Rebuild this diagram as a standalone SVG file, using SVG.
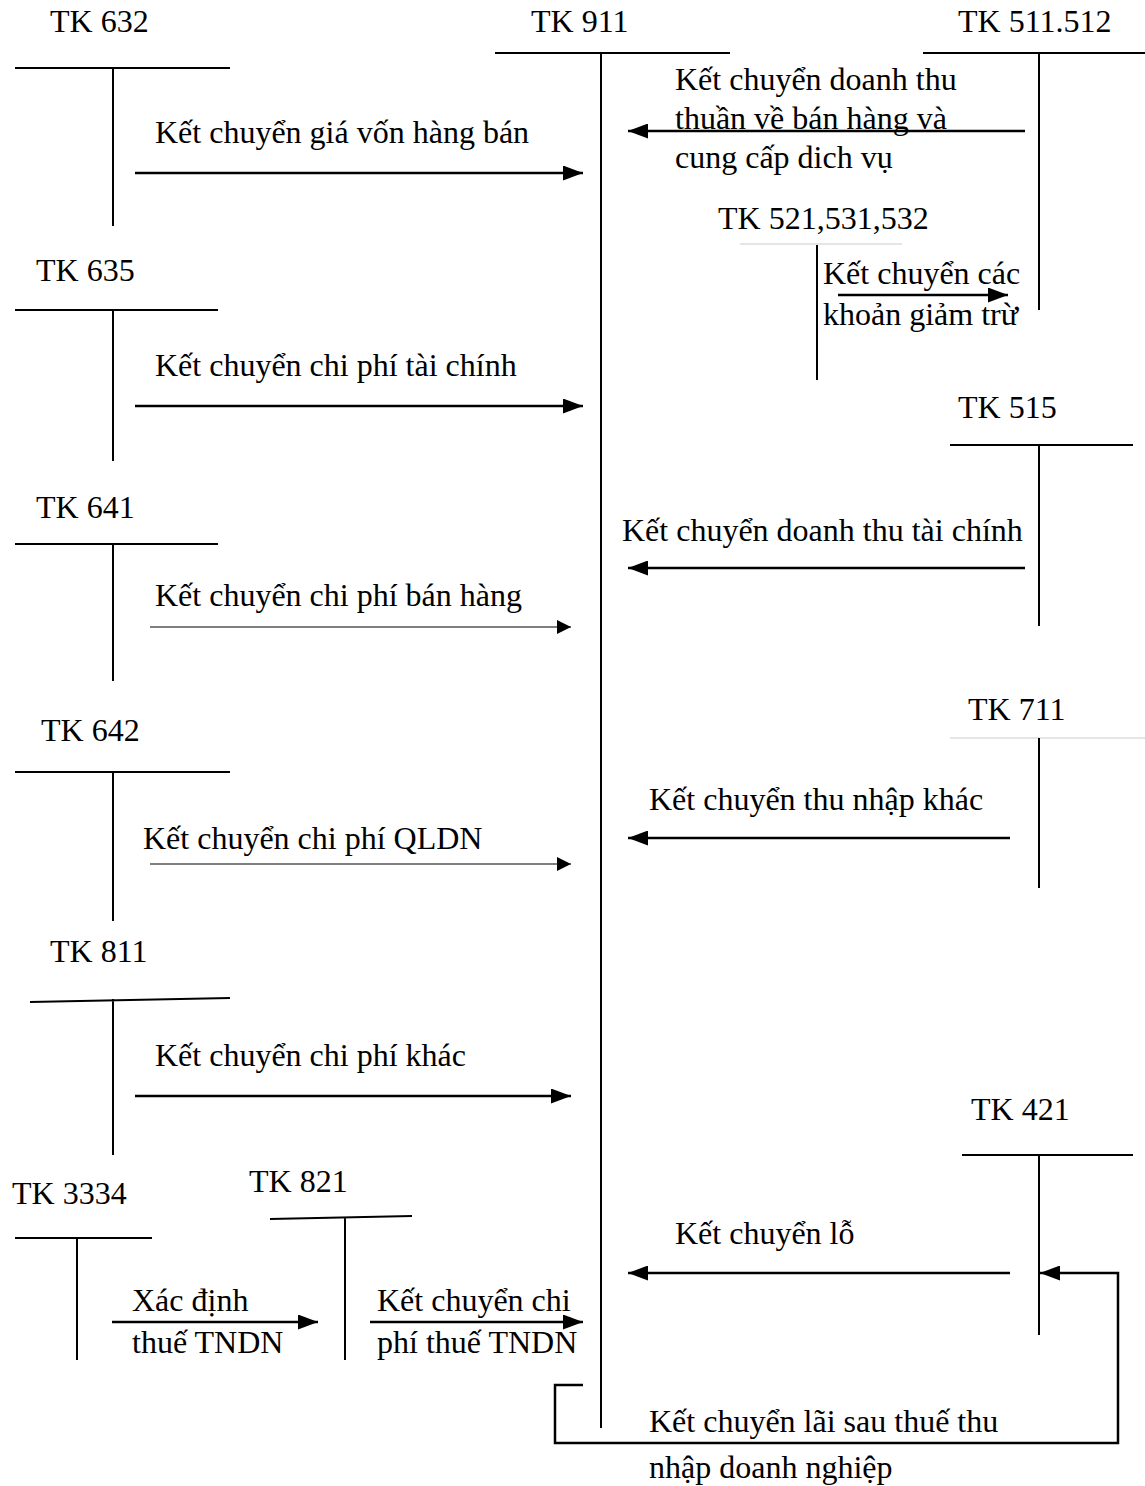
<svg xmlns="http://www.w3.org/2000/svg" width="1145" height="1486" viewBox="0 0 1145 1486">
<style>
text{font-family:"Liberation Serif","Times New Roman",serif;font-size:32px;fill:#000}
.ln{stroke:#000;stroke-width:2;fill:none}
.lt{stroke:#ddd;stroke-width:1.5;fill:none}
.ar{stroke:#000;stroke-width:2.5;fill:none;marker-end:url(#ah)}
.at{stroke:#000;stroke-width:1.2;fill:none;marker-end:url(#ah2)}
</style>
<defs>
<marker id="ah" markerWidth="8" markerHeight="6" refX="8" refY="3" orient="auto" markerUnits="strokeWidth"><path d="M0,0 L8,3 L0,6 Z" fill="#000"/></marker>
<marker id="ah2" markerWidth="14" markerHeight="14" refX="14" refY="7" orient="auto" markerUnits="userSpaceOnUse"><path d="M0,0 L14,7 L0,14 Z" fill="#000"/></marker>
</defs>
<rect width="1145" height="1486" fill="#fff"/>
<g id="tk632"><text x="50" y="32">TK 632</text><path class="ln" d="M15,68 H230 M113,68 V226"/></g>
<g id="tk911"><text x="531" y="32">TK 911</text><path class="ln" d="M495,53 H730 M601,53 V1428"/></g>
<g id="tk511"><text x="958" y="32">TK 511.512</text><path class="ln" d="M923,53 H1145 M1039,53 V310"/></g>
<g id="tk521"><text x="718" y="229">TK 521,531,532</text><path class="lt" d="M740,244 H902"/><path class="ln" d="M817,245 V380"/></g>
<g id="tk635"><text x="36" y="281">TK 635</text><path class="ln" d="M15,310 H218 M113,310 V461"/></g>
<g id="tk515"><text x="958" y="418">TK 515</text><path class="ln" d="M950,445 H1133 M1039,445 V626"/></g>
<g id="tk641"><text x="36" y="518">TK 641</text><path class="ln" d="M15,544 H218 M113,544 V681"/></g>
<g id="tk711"><text x="968" y="720">TK 711</text><path class="lt" d="M950,738 H1145"/><path class="ln" d="M1039,738 V888"/></g>
<g id="tk642"><text x="41" y="741">TK 642</text><path class="ln" d="M15,772 H230 M113,772 V921"/></g>
<g id="tk811"><text x="50" y="962">TK 811</text><path class="ln" d="M30,1002 L230,998 M113,999 V1155"/></g>
<g id="tk421"><text x="971" y="1120">TK 421</text><path class="ln" d="M962,1155 H1133 M1039,1155 V1335"/></g>
<g id="tk3334"><text x="12" y="1204">TK 3334</text><path class="ln" d="M15,1238 H152 M77,1238 V1360"/></g>
<g id="tk821"><text x="249" y="1192">TK 821</text><path class="ln" d="M270,1219 L412,1216 M345,1218 V1360"/></g>
<g id="connectors">
<path class="ar" d="M135,173 H583"/>
<path class="ar" d="M1025,131 H628"/>
<path class="ar" d="M838,295 H1008"/>
<path class="ar" d="M135,406 H583"/>
<path class="ar" d="M1025,568 H628"/>
<path class="at" d="M150,627 H571"/>
<path class="ar" d="M1010,838 H628"/>
<path class="at" d="M150,864 H571"/>
<path class="ar" d="M135,1096 H571"/>
<path class="ar" d="M1010,1273 H628"/>
<path class="ar" d="M112,1322 H318"/>
<path class="ar" d="M370,1322 H583"/>
<path class="ar" d="M583,1385 H555 V1443 H1118 V1273 H1040"/>
</g>
<g id="labels">
<text x="155" y="143">Kết chuyển giá vốn hàng bán</text>
<text x="675" y="90">Kết chuyển doanh thu</text>
<text x="675" y="129">thuần về bán hàng và</text>
<text x="675" y="168">cung cấp dich vụ</text>
<text x="823" y="284">Kết chuyển các</text>
<text x="823" y="325">khoản giảm trừ</text>
<text x="155" y="376">Kết chuyển chi phí tài chính</text>
<text x="622" y="541">Kết chuyển doanh thu tài chính</text>
<text x="155" y="606">Kết chuyển chi phí bán hàng</text>
<text x="649" y="810">Kết chuyển thu nhập khác</text>
<text x="143" y="849">Kết chuyển chi phí QLDN</text>
<text x="155" y="1066">Kết chuyển chi phí khác</text>
<text x="675" y="1244">Kết chuyển lỗ</text>
<text x="132" y="1311">Xác định</text>
<text x="132" y="1353">thuế TNDN</text>
<text x="377" y="1311">Kết chuyển chi</text>
<text x="377" y="1353">phí thuế TNDN</text>
<text x="649" y="1432">Kết chuyển lãi sau thuế thu</text>
<text x="649" y="1478">nhập doanh nghiệp</text>
</g>
</svg>
